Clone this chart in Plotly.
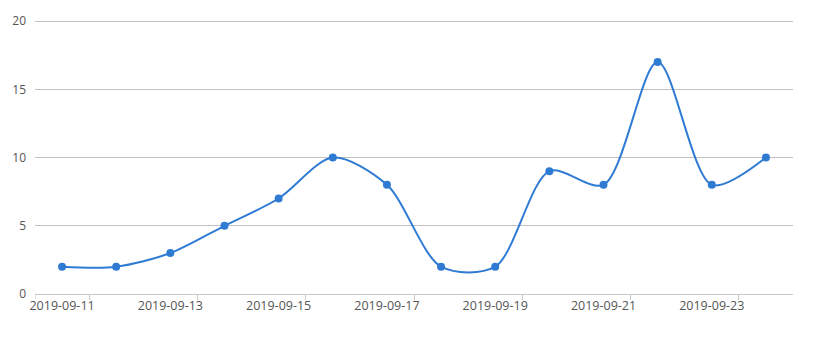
import plotly.graph_objects as go

dates = ["2019-09-11", "2019-09-12", "2019-09-13", "2019-09-14", "2019-09-15",
         "2019-09-16", "2019-09-17", "2019-09-18", "2019-09-19", "2019-09-20",
         "2019-09-21", "2019-09-22", "2019-09-23", "2019-09-24"]
values = [2, 2, 3, 5, 7, 10, 8, 2, 2, 9, 8, 17, 8, 10]
y_ticks = [0, 5, 10, 15, 20]

idx = list(range(len(dates)))
color = "#2f7bd4"
axis_color = "#c8c8c8"

fig = go.Figure()
fig.add_trace(go.Scatter(
    x=idx, y=values, mode="lines+markers",
    line=dict(color=color, width=2, shape="spline", smoothing=0.85),
    marker=dict(color=color, size=8),
    hoverinfo="x+y",
))

# tick at the start of the category axis
fig.add_shape(type="line", xref="x", yref="paper", x0=-0.5, x1=-0.5,
              y0=0, y1=-0.018, line=dict(color=axis_color, width=1))

fig.update_layout(
    width=834, height=349,
    margin=dict(l=35, r=41, t=15, b=55),
    plot_bgcolor="white", paper_bgcolor="white",
    showlegend=False,
    font=dict(family="Open Sans, DejaVu Sans, sans-serif", size=12, color="#555"),
    xaxis=dict(
        range=[-0.5, len(dates) - 0.5],
        tickvals=idx[::2], ticktext=dates[::2],
        ticks="", showgrid=False, zeroline=False,
        showline=True, linecolor=axis_color, linewidth=1,
        minor=dict(tick0=0.5, dtick=2, ticks="outside", ticklen=5,
                   tickcolor=axis_color, showgrid=False),
        ticklabelstandoff=0,
        tickfont=dict(size=12.5, color="#555"),
        fixedrange=True,
    ),
    yaxis=dict(
        range=[0, 20.08], tickvals=y_ticks,
        showgrid=True, gridcolor="#c0c0c0", gridwidth=1,
        zeroline=False, showline=False, ticks="",
        ticklabelstandoff=8,
        tickfont=dict(size=12, color="#555"),
        fixedrange=True,
    ),
)

fig.write_html("out.html")
